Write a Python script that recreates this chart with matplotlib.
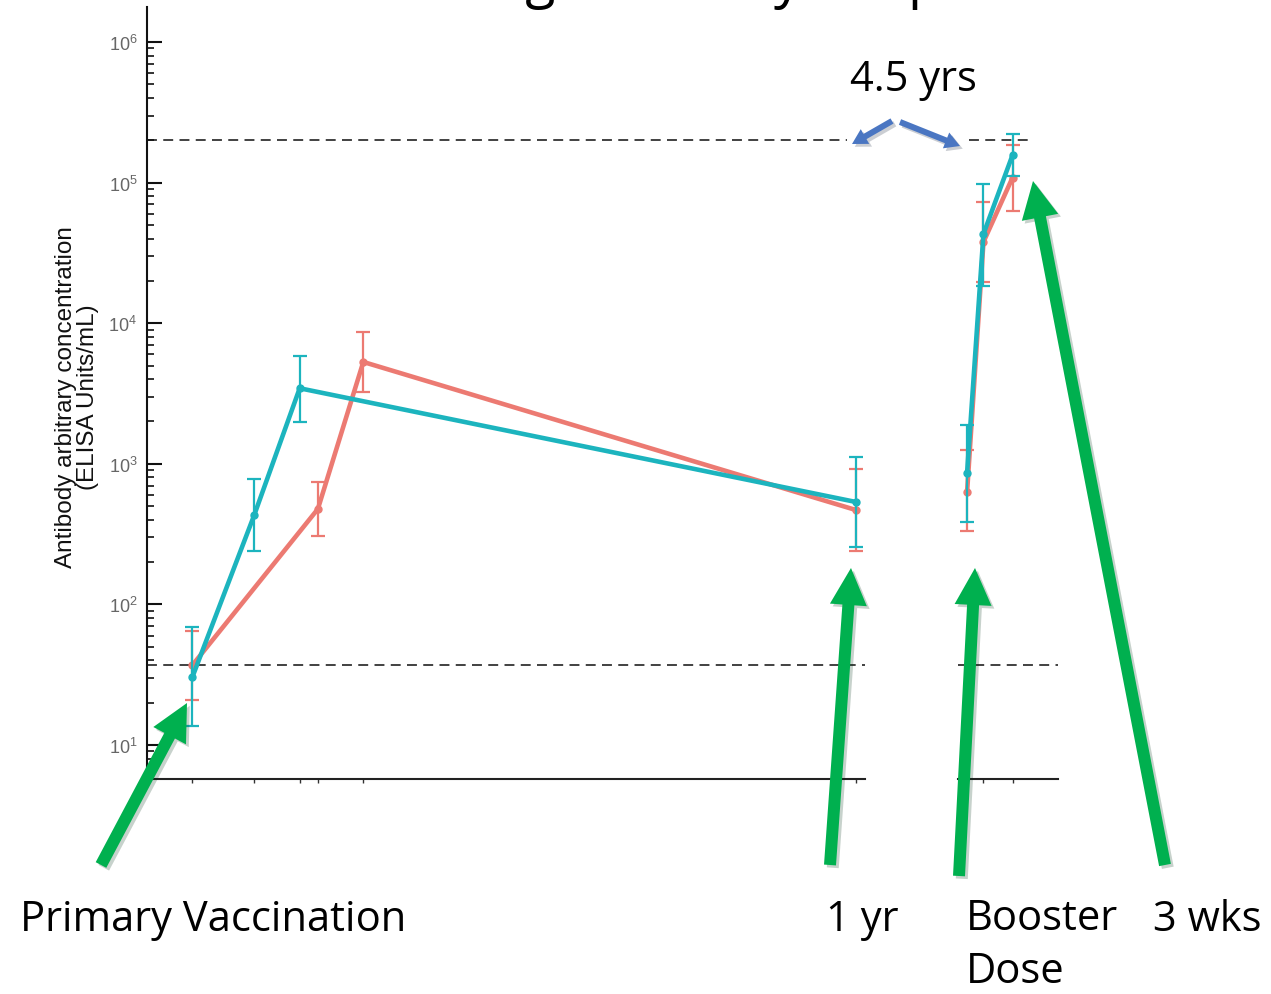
import matplotlib
matplotlib.use("Agg")
import matplotlib.pyplot as plt
import matplotlib.patheffects as pe
from matplotlib.patches import FancyArrow
from matplotlib.ticker import LogLocator, NullFormatter, FixedLocator

# primary course, days after first dose
RED_DAYS = [0, 69, 94, 365]
RED_GMT = [37, 477, 5300, 469]
RED_LO = [21, 308, 3225, 240]
RED_HI = [65, 738, 8610, 911]

TEAL_DAYS = [0, 34, 59, 365]
TEAL_GMT = [30.5, 432, 3445, 535]
TEAL_LO = [13.6, 241, 1993, 257]
TEAL_HI = [68.7, 780, 5870, 1109]

# booster, days after the booster dose
BOOST_DAYS = [0, 9, 25]
RED_BOOST = [631, 37800, 108600]
RED_BOOST_LO = [333, 19500, 63200]
RED_BOOST_HI = [1254, 73100, 186600]
TEAL_BOOST = [861, 43100, 157000]
TEAL_BOOST_LO = [385, 18500, 111000]
TEAL_BOOST_HI = [1888, 98000, 222000]

UPPER_REF = 2.0e5
LOWER_REF = 37

RED = "#EC7A72"
TEAL = "#1CB4BE"
GREEN = "#00B04F"
BLUE = "#4A76C2"
ANNOT_FONT = ["Open Sans", "DejaVu Sans"]

W, H = 1271, 995
fig = plt.figure(figsize=(W / 100, H / 100), dpi=100)
plt.rcParams["font.family"] = ["Liberation Sans", "DejaVu Sans"]


def px_box(x0, x1, y_top, y_bot):
    return [x0 / W, 1 - y_bot / H, (x1 - x0) / W, (y_bot - y_top) / H]


ax1 = fig.add_axes(px_box(147, 865, 8, 780))
ax2 = fig.add_axes(px_box(958, 1058, 8, 780))

YLIM = (10 ** 0.758, 10 ** 6.249)


def draw_series(ax, x, y, lo, hi, color, z):
    yerr = [[v - l for v, l in zip(y, lo)], [h - v for v, h in zip(y, hi)]]
    ax.errorbar(x, y, yerr=yerr, fmt="none", ecolor=color, elinewidth=1.6,
                capsize=4.8, capthick=1.6, zorder=z)
    ax.plot(x, y, color=color, lw=3.3, marker="o", ms=5, zorder=z + 0.5)


dash = (0, (5.5, 3.5))
for ax in (ax1, ax2):
    ax.set_yscale("log")
    ax.set_ylim(*YLIM)
    for side in ("top", "right"):
        ax.spines[side].set_visible(False)
    ax.spines["bottom"].set_linewidth(1.5)
    ax.spines["bottom"].set_color("#222222")
    ax.tick_params(axis="x", direction="out", length=3, width=1,
                   colors="#333333", labelbottom=False)
    ax.axhline(LOWER_REF, color="#333333", lw=1.3, ls=dash, zorder=1)

# primary course panel
ax1.set_xlim(-25, 370)
draw_series(ax1, RED_DAYS, RED_GMT, RED_LO, RED_HI, RED, 3)
draw_series(ax1, TEAL_DAYS, TEAL_GMT, TEAL_LO, TEAL_HI, TEAL, 4)
ax1.hlines(UPPER_REF, -25, 360, color="#333333", lw=1.3, linestyles=dash, zorder=1)
ax1.xaxis.set_major_locator(FixedLocator(sorted(set(RED_DAYS + TEAL_DAYS))))
ax1.spines["left"].set_linewidth(1.5)
ax1.spines["left"].set_color("#111111")
ax1.yaxis.set_major_locator(LogLocator(base=10, numticks=10))
ax1.yaxis.set_minor_locator(LogLocator(base=10, subs=range(2, 10), numticks=20))
ax1.yaxis.set_minor_formatter(NullFormatter())
ax1.tick_params(axis="y", which="major", direction="in", length=11, width=1.5,
                colors="#111111", labelcolor="#666666", labelsize=13, pad=7)
ax1.tick_params(axis="y", which="minor", direction="in", length=5, width=1.2,
                colors="#111111")

# booster panel
ax2.set_xlim(-5, 50)
draw_series(ax2, BOOST_DAYS, RED_BOOST, RED_BOOST_LO, RED_BOOST_HI, RED, 3)
draw_series(ax2, BOOST_DAYS, TEAL_BOOST, TEAL_BOOST_LO, TEAL_BOOST_HI, TEAL, 4)
ax2.hlines(UPPER_REF, 1, 35, color="#333333", lw=1.3, linestyles=dash, zorder=1)
ax2.xaxis.set_major_locator(FixedLocator(BOOST_DAYS[1:]))
ax2.spines["left"].set_visible(False)
ax2.yaxis.set_visible(False)

fig.text(77 / W, 1 - 397 / H,
         "Antibody arbitrary concentration\n(ELISA Units/mL)",
         rotation=90, ha="center", va="center", multialignment="center",
         fontsize=17.5, color="#111111", linespacing=1.05)

# annotation layer in pixel coordinates
ov = fig.add_axes([0, 0, 1, 1], zorder=10)
ov.set_xlim(0, W)
ov.set_ylim(H, 0)
ov.axis("off")
ov.patch.set_alpha(0)

shadow = [pe.SimplePatchShadow(offset=(2, -2), alpha=0.22), pe.Normal()]
green_arrows = [((101, 866), (187, 704)), ((830, 866), (851, 569)),
                ((959, 877), (975, 569)), ((1165, 866), (1033, 182))]
for (x0, y0), (x1, y1) in green_arrows:
    ov.add_patch(FancyArrow(x0, y0, x1 - x0, y1 - y0, width=12, head_width=37,
                            head_length=37, length_includes_head=True,
                            color=GREEN, lw=0, path_effects=shadow))

blue_arrows = [((892, 122), (852, 145)), ((900, 123), (960, 147))]
for (x0, y0), (x1, y1) in blue_arrows:
    ov.add_patch(FancyArrow(x0, y0, x1 - x0, y1 - y0, width=6, head_width=17,
                            head_length=15, length_includes_head=True,
                            color=BLUE, lw=0, path_effects=shadow))

ov.text(913, 91, "4.5 yrs", ha="center", va="baseline", fontsize=30,
        family=ANNOT_FONT, color="black")
ov.text(20, 931, "Primary Vaccination", ha="left", va="baseline", fontsize=30,
        family=ANNOT_FONT, color="black")
ov.text(826, 931, "1 yr", ha="left", va="baseline", fontsize=30,
        family=ANNOT_FONT, color="black")
ov.text(966, 983, "Booster\nDose", ha="left", va="baseline", fontsize=30,
        family=ANNOT_FONT, color="black", linespacing=1.35)
ov.text(1153, 931, "3 wks", ha="left", va="baseline", fontsize=30,
        family=ANNOT_FONT, color="black")

# slide heading sits just above the visible area
ov.text(726, -4, "Strong Antibody Response", ha="center", va="baseline",
        fontsize=40, family=ANNOT_FONT, color="black")

fig.savefig("out.png", dpi=100)
